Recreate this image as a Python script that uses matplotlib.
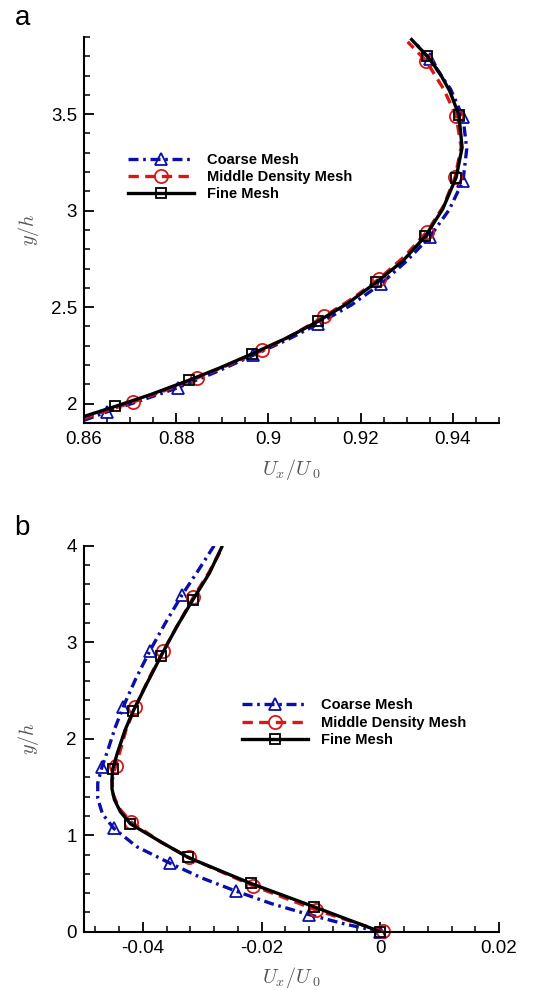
import matplotlib
matplotlib.use("Agg")
import matplotlib.pyplot as plt
from matplotlib.ticker import FixedLocator, MultipleLocator, FixedFormatter

plt.rcParams['font.family'] = ['Liberation Sans', 'DejaVu Sans']
plt.rcParams['mathtext.fontset'] = 'cm'
plt.rcParams['axes.unicode_minus'] = False

series_labels = ["Coarse Mesh", "Middle Density Mesh", "Fine Mesh"]

# ---------------- Panel a data ----------------
a_coarse_line_x = [0.8600, 0.8649, 0.8725, 0.8804, 0.8885, 0.8966, 0.9040, 0.9108, 0.9180, 0.9244,
                   0.9300, 0.9350, 0.9392, 0.9422, 0.9430, 0.9422, 0.9395, 0.9350, 0.9318]
a_coarse_line_y = [1.914, 1.957, 2.018, 2.083, 2.163, 2.250, 2.330, 2.414, 2.512, 2.621,
                   2.740, 2.865, 3.005, 3.155, 3.320, 3.483, 3.630, 3.784, 3.870]
a_coarse_mark_x = [0.8649, 0.8804, 0.8966, 0.9108, 0.9244, 0.9350, 0.9422, 0.9422, 0.9350]
a_coarse_mark_y = [1.957, 2.083, 2.250, 2.414, 2.621, 2.865, 3.155, 3.483, 3.784]

a_middle_line_x = [0.8600, 0.8707, 0.8775, 0.8845, 0.8915, 0.8987, 0.9055, 0.9121, 0.9182, 0.9240,
                   0.9295, 0.9344, 0.9380, 0.9405, 0.9418, 0.9407, 0.9380, 0.9342, 0.9302]
a_middle_line_y = [1.925, 2.009, 2.068, 2.133, 2.203, 2.276, 2.360, 2.452, 2.545, 2.647,
                   2.763, 2.891, 3.025, 3.176, 3.330, 3.491, 3.630, 3.776, 3.875]
a_middle_mark_x = [0.8707, 0.8845, 0.8987, 0.9121, 0.9240, 0.9344, 0.9405, 0.9407, 0.9342]
a_middle_mark_y = [2.009, 2.133, 2.276, 2.452, 2.647, 2.891, 3.176, 3.491, 3.776]

a_fine_line_x = [0.8600, 0.8668, 0.8744, 0.8827, 0.8895, 0.8965, 0.9040, 0.9107, 0.9173, 0.9234,
                 0.9292, 0.9340, 0.9378, 0.9407, 0.9420, 0.9413, 0.9393, 0.9371, 0.9344, 0.9308]
a_fine_line_y = [1.934, 1.986, 2.047, 2.121, 2.186, 2.259, 2.341, 2.426, 2.522, 2.629,
                 2.741, 2.867, 3.009, 3.172, 3.327, 3.496, 3.621, 3.715, 3.802, 3.893]
a_fine_mark_x = [0.8668, 0.8827, 0.8965, 0.9107, 0.9234, 0.9340, 0.9407, 0.9413, 0.9344]
a_fine_mark_y = [1.986, 2.121, 2.259, 2.426, 2.629, 2.867, 3.172, 3.496, 3.802]

a_xticks = [0.86, 0.88, 0.90, 0.92, 0.94]
a_xticklabels = ["0.86", "0.88", "0.9", "0.92", "0.94"]
a_yticks = [2.0, 2.5, 3.0, 3.5]
a_yticklabels = ["2", "2.5", "3", "3.5"]

# ---------------- Panel b data ----------------
b_coarse_line_x = [0.0000, -0.0060, -0.0120, -0.0183, -0.0243, -0.0302, -0.0355, -0.0410, -0.0449,
                   -0.0468, -0.0476, -0.0476, -0.0469, -0.0458, -0.0447, -0.0433, -0.0412, -0.0388,
                   -0.0362, -0.0334, -0.0306, -0.0280]
b_coarse_line_y = [0.000, 0.080, 0.177, 0.290, 0.420, 0.560, 0.712, 0.880, 1.071,
                   1.220, 1.380, 1.540, 1.705, 1.900, 2.110, 2.332, 2.620, 2.913,
                   3.200, 3.489, 3.750, 4.000]
b_coarse_mark_x = [0.0000, -0.0120, -0.0243, -0.0355, -0.0449, -0.0469, -0.0433, -0.0388, -0.0334]
b_coarse_mark_y = [0.000, 0.177, 0.420, 0.712, 1.071, 1.705, 2.332, 2.913, 3.489]

b_middle_line_x = [0.0005, -0.0108, -0.0215, -0.0323, -0.0370, -0.0420, -0.0440, -0.0450, -0.0452,
                   -0.0446, -0.0437, -0.0428, -0.0413, -0.0391, -0.0366, -0.0340, -0.0315, -0.0288,
                   -0.0268]
b_middle_line_y = [0.000, 0.225, 0.478, 0.770, 0.930, 1.138, 1.280, 1.420, 1.560,
                   1.718, 1.900, 2.100, 2.325, 2.610, 2.905, 3.190, 3.465, 3.730,
                   3.960]
b_middle_mark_x = [0.0005, -0.0108, -0.0215, -0.0323, -0.0420, -0.0446, -0.0413, -0.0366, -0.0315]
b_middle_mark_y = [0.010, 0.225, 0.478, 0.770, 1.138, 1.718, 2.325, 2.905, 3.465]

b_fine_line_x = [0.0000, -0.0112, -0.0218, -0.0324, -0.0371, -0.0421, -0.0438, -0.0448, -0.0452,
                 -0.0452, -0.0451, -0.0443, -0.0430, -0.0416, -0.0393, -0.0369, -0.0343, -0.0316,
                 -0.0288, -0.0266]
b_fine_line_y = [0.000, 0.259, 0.500, 0.770, 0.935, 1.118, 1.244, 1.370, 1.480,
                 1.580, 1.682, 1.850, 2.090, 2.290, 2.575, 2.862, 3.160, 3.437,
                 3.714, 4.000]
b_fine_mark_x = [0.0000, -0.0112, -0.0218, -0.0324, -0.0421, -0.0451, -0.0416, -0.0369, -0.0316]
b_fine_mark_y = [0.000, 0.259, 0.500, 0.770, 1.118, 1.682, 2.290, 2.862, 3.437]

b_xticks = [-0.04, -0.02, 0.0, 0.02]
b_xticklabels = ["-0.04", "-0.02", "0", "0.02"]
b_yticks = [0, 1, 2, 3, 4]
b_yticklabels = ["0", "1", "2", "3", "4"]

# ---------------- styles ----------------
BLUE = '#0b0fa8'
RED = '#d81818'
BLACK = '#000000'
LW = 2.4
styles = [
    dict(color=BLUE, ls=(0, (3.0, 1.4, 0.8, 1.4)), marker='^', ms=8.0),
    dict(color=RED, ls=(0, (3.1, 1.9)), marker='o', ms=9.5),
    dict(color=BLACK, ls='-', marker='s', ms=7.2),
]

fig = plt.figure(figsize=(5.33, 9.90), dpi=100)
axa = fig.add_axes([84 / 533, 1 - 423 / 990, 415 / 533, 386 / 990])
axb = fig.add_axes([83.5 / 533, 1 - 931.7 / 990, 415.5 / 533, 386 / 990])


def draw(ax, lines, marks):
    handles = []
    for (lx, ly), (mx, my), st, lab in zip(lines, marks, styles, series_labels):
        ax.plot(lx, ly, color=st['color'], ls=st['ls'], lw=LW, solid_capstyle='butt')
        ax.plot(mx, my, ls='none', marker=st['marker'], ms=st['ms'], mfc='none',
                mec=st['color'], mew=1.3, clip_on=False)
        h, = ax.plot([], [], color=st['color'], ls=st['ls'], lw=LW, marker=st['marker'],
                     ms=st['ms'], mfc='none', mec=st['color'], mew=1.3, label=lab)
        handles.append(h)
    return handles


ha = draw(axa,
          [(a_coarse_line_x, a_coarse_line_y), (a_middle_line_x, a_middle_line_y), (a_fine_line_x, a_fine_line_y)],
          [(a_coarse_mark_x, a_coarse_mark_y), (a_middle_mark_x, a_middle_mark_y), (a_fine_mark_x, a_fine_mark_y)])
hb = draw(axb,
          [(b_coarse_line_x, b_coarse_line_y), (b_middle_line_x, b_middle_line_y), (b_fine_line_x, b_fine_line_y)],
          [(b_coarse_mark_x, b_coarse_mark_y), (b_middle_mark_x, b_middle_mark_y), (b_fine_mark_x, b_fine_mark_y)])

axa.set_xlim(0.86, 0.95)
axa.set_ylim(1.9, 3.9)
axb.set_xlim(-0.05, 0.02)
axb.set_ylim(0, 4)

for ax, xt, xl, yt, yl, xmin, ymin in [
        (axa, a_xticks, a_xticklabels, a_yticks, a_yticklabels, 0.005, 0.1),
        (axb, b_xticks, b_xticklabels, b_yticks, b_yticklabels, 0.004, 0.2)]:
    ax.xaxis.set_major_locator(FixedLocator(xt))
    ax.xaxis.set_major_formatter(FixedFormatter(xl))
    ax.yaxis.set_major_locator(FixedLocator(yt))
    ax.yaxis.set_major_formatter(FixedFormatter(yl))
    ax.xaxis.set_minor_locator(MultipleLocator(xmin))
    ax.yaxis.set_minor_locator(MultipleLocator(ymin))
    for s in ['top', 'right']:
        ax.spines[s].set_visible(False)
    for s in ['left', 'bottom']:
        ax.spines[s].set_linewidth(1.5)
    ax.tick_params(which='major', direction='in', length=7.5, width=1.3, labelsize=13.5, pad=5)
    ax.tick_params(which='minor', direction='in', length=4.5, width=1.1)
    ax.tick_params(axis='x', which='major', pad=6)
    ax.set_xlabel(r'$U_x/U\,_0$', fontsize=14.5, color='#555555', labelpad=6)
    ax.set_ylabel(r'$y/h$', fontsize=14.5, color='#555555')
    ax.yaxis.set_label_coords(-0.103, 0.5)

leg_kw = dict(frameon=False, loc='center left', borderpad=0, borderaxespad=0,
              handlelength=4.5, handletextpad=0.95, labelspacing=0.22,
              prop=dict(family='Liberation Sans', weight='bold', size=10.5))
fig.legend(handles=ha, bbox_to_anchor=(128 / 533, 1 - 177 / 990), **leg_kw)
fig.legend(handles=hb, bbox_to_anchor=(242 / 533, 1 - 722.7 / 990), **leg_kw)

fig.text(15 / 533, 1 - 25 / 990, 'a', fontsize=20, va='baseline', ha='left')
fig.text(14 / 533, 1 - 535 / 990, 'b', fontsize=20, va='baseline', ha='left')

fig.savefig('out.png', dpi=100, facecolor='white')
